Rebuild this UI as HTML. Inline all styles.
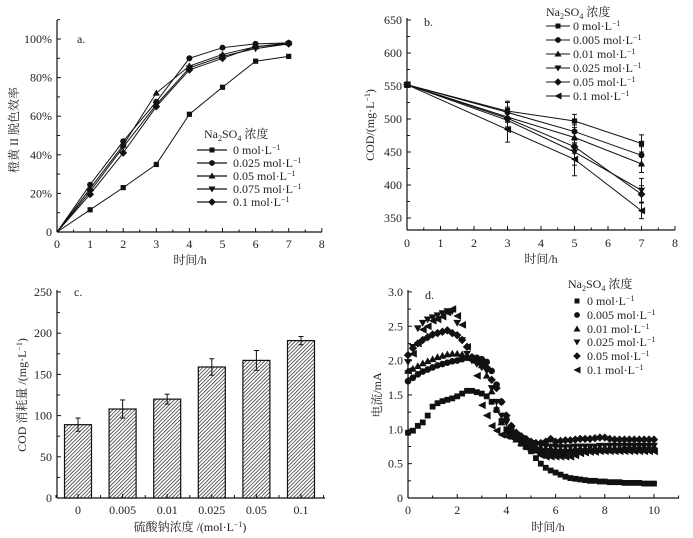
<!DOCTYPE html>
<html><head><meta charset="utf-8">
<style>
html,body{margin:0;padding:0;background:#fff;}
svg{display:block;font-family:"Liberation Serif","Noto Serif CJK SC","Noto Sans CJK SC",serif;}
text{fill:#222;}
</style></head>
<body>
<svg id="c" width="693" height="538" viewBox="0 0 693 538" xmlns="http://www.w3.org/2000/svg">
<defs>
<pattern id="hatch" patternUnits="userSpaceOnUse" width="2.6" height="2.6" patternTransform="rotate(45)">
<rect width="2.6" height="2.6" fill="#fff"/><line x1="0" y1="0" x2="0" y2="2.6" stroke="#333" stroke-width="1.5"/>
</pattern>
</defs>
</svg>
<script>
// ---------- Panel a data ----------
const aTimes=[0,1,2,3,4,5,6,7];
const aLabels=['0 mol·L','0.025 mol·L','0.05 mol·L','0.075 mol·L','0.1 mol·L'];
const aS0=[0,11.5,23,35,61,75,88.5,91];
const aS025=[0,24.5,47,67.5,90,95.5,97.5,98];
const aS05=[0,22.5,45,72,86,92,96,98];
const aS075=[0,21,44,66,85,91,95,97.5];
const aS1=[0,19.5,41,65,84,90,96,97.5];
const aYTicks=[0,20,40,60,80,100];
// ---------- Panel b data ----------
const bTimes=[0,3,5,7];
const bLabels=['0 mol·L','0.005 mol·L','0.01 mol·L','0.025 mol·L','0.05 mol·L','0.1 mol·L'];
const bS0=[552,512,497,463];
const bS005=[552,510,481,445];
const bS01=[552,503,472,432];
const bS025=[552,498,450,392];
const bS05=[552,501,458,386];
const bS1=[552,484,439,361];
const bErr0=[4,15,10,13];
const bErr1=[4,19,25,12];
const bErr025=[4,12,20,18];
const bYTicks=[350,400,450,500,550,600,650];
// ---------- Panel c data ----------
const cCats=['0','0.005','0.01','0.025','0.05','0.1'];
const cVals=[89,108,120,159,167,191];
const cErrs=[8,11,6,10,12,5];
const cYTicks=[0,50,100,150,200,250];
// ---------- Panel d data ----------
const dTimes=[0,0.2,0.4,0.6,0.8,1,1.2,1.4,1.6,1.8,2,2.2,2.4,2.6,2.8,3,3.2,3.4,3.6,3.8,4,4.2,4.4,4.6,4.8,5,5.2,5.4,5.6,5.8,6,6.2,6.4,6.6,6.8,7,7.2,7.4,7.6,7.8,8,8.2,8.4,8.6,8.8,9,9.2,9.4,9.6,9.8,10];
const dLabels=['0 mol·L','0.005 mol·L','0.01 mol·L','0.025 mol·L','0.05 mol·L','0.1 mol·L'];
const dS0=[0.95,0.98,1.05,1.1,1.2,1.33,1.38,1.41,1.43,1.45,1.48,1.52,1.56,1.56,1.54,1.52,1.48,1.40,1.28,1.12,1.0,0.92,0.85,0.79,0.74,0.68,0.58,0.5,0.44,0.4,0.37,0.34,0.31,0.29,0.28,0.27,0.26,0.25,0.25,0.24,0.24,0.23,0.23,0.23,0.22,0.22,0.22,0.22,0.21,0.21,0.21];
const dS005=[1.7,1.75,1.8,1.84,1.87,1.9,1.93,1.95,1.97,1.99,2.0,2.02,2.04,2.05,2.04,2.02,1.98,1.85,1.65,1.4,1.15,1.0,0.9,0.83,0.78,0.74,0.72,0.7,0.69,0.69,0.68,0.68,0.68,0.68,0.69,0.69,0.69,0.7,0.7,0.7,0.7,0.7,0.7,0.7,0.71,0.71,0.71,0.71,0.71,0.71,0.71];
const dS01=[1.85,1.88,1.92,1.96,1.99,2.02,2.05,2.07,2.09,2.1,2.1,2.09,2.07,2.04,2.0,1.93,1.78,1.55,1.3,1.1,0.97,0.9,0.85,0.8,0.76,0.72,0.69,0.67,0.66,0.66,0.66,0.66,0.66,0.67,0.67,0.68,0.68,0.69,0.69,0.7,0.7,0.7,0.71,0.71,0.72,0.72,0.72,0.73,0.73,0.73,0.73];
const dS025=[1.98,2.2,2.47,2.55,2.6,2.63,2.66,2.69,2.72,2.72,2.55,2.3,2.1,2.0,1.95,1.9,1.85,1.6,1.4,1.2,1.1,1.0,0.92,0.87,0.83,0.8,0.78,0.76,0.75,0.75,0.74,0.74,0.74,0.74,0.75,0.75,0.75,0.75,0.75,0.76,0.76,0.76,0.76,0.76,0.76,0.76,0.76,0.76,0.76,0.76,0.76];
const dS05=[2.08,2.18,2.25,2.3,2.34,2.38,2.4,2.42,2.44,2.4,2.37,2.3,2.2,2.05,1.98,1.96,1.9,1.72,1.6,1.4,1.2,1.05,0.95,0.9,0.86,0.82,0.8,0.8,0.82,0.86,0.82,0.83,0.84,0.84,0.85,0.86,0.86,0.86,0.87,0.88,0.88,0.86,0.85,0.85,0.85,0.85,0.85,0.85,0.85,0.85,0.85];
const dS1=[1.85,2.1,2.25,2.45,2.5,2.58,2.6,2.64,2.7,2.75,2.65,2.52,2.2,2.0,1.78,1.35,1.2,1.05,0.98,0.92,0.9,0.88,0.86,0.84,0.8,0.75,0.68,0.62,0.6,0.6,0.6,0.6,0.6,0.6,0.62,0.65,0.66,0.67,0.67,0.68,0.68,0.68,0.68,0.68,0.68,0.68,0.68,0.68,0.68,0.68,0.68];
const dYTicks=[0,0.5,1.0,1.5,2.0,2.5,3.0];
const dXTicks=[0,2,4,6,8,10];

const svg=document.getElementById('c');
const NS='http://www.w3.org/2000/svg';
const FS=12;
function mk(tag,attrs,parent){const e=document.createElementNS(NS,tag);for(const k in attrs)e.setAttribute(k,attrs[k]);(parent||svg).appendChild(e);return e;}
function txt(x,y,s,anchor,size,parent){const t=mk('text',{x:x,y:y,'text-anchor':anchor||'middle','font-size':size||FS},parent);t.textContent=s;return t;}
function supLabel(x,y,base,parent){const t=mk('text',{x:x,y:y,'text-anchor':'start','font-size':FS},parent);t.appendChild(document.createTextNode(base));const s=mk('tspan',{dy:-4,'font-size':8},t);s.textContent='−1';return t;}
function marker(type,x,y,r,parent,name){
  let e;
  if(type==='sq')e=mk('rect',{x:x-r,y:y-r,width:2*r,height:2*r,fill:'#111'},parent);
  else if(type==='ci')e=mk('circle',{cx:x,cy:y,r:r+0.4,fill:'#111'},parent);
  else if(type==='tu')e=mk('polygon',{points:`${x},${y-r-1} ${x-r-1},${y+r} ${x+r+1},${y+r}`,fill:'#111'},parent);
  else if(type==='td')e=mk('polygon',{points:`${x},${y+r+1} ${x-r-1},${y-r} ${x+r+1},${y-r}`,fill:'#111'},parent);
  else if(type==='di')e=mk('polygon',{points:`${x},${y-r-1.3} ${x+r+1.3},${y} ${x},${y+r+1.3} ${x-r-1.3},${y}`,fill:'#111'},parent);
  else e=mk('polygon',{points:`${x-r-1},${y} ${x+r+1},${y-r-1} ${x+r+1},${y+r+1}`,fill:'#111'},parent);
  
  
  return e;
}
function line(x1,y1,x2,y2,parent,w){return mk('line',{x1:x1,y1:y1,x2:x2,y2:y2,stroke:'#111','stroke-width':w||1},parent);}
function group(name){const g=mk('g',{});return g;}
function naTitle(x,y,parent){
  const t=mk('text',{x:x,y:y,'font-size':FS,'text-anchor':'start'},parent);t.appendChild(document.createTextNode('Na'));
  let s1=mk('tspan',{dy:3,'font-size':8},t);s1.textContent='2';let s2=mk('tspan',{dy:-3},t);s2.textContent='SO';let s3=mk('tspan',{dy:3,'font-size':8},t);s3.textContent='4';let s4=mk('tspan',{dy:-3},t);s4.textContent=' 浓度';
}

// ======== Panel a ========
(function(){
  const g=group('panel-a');
  const X=v=>57+v*33.1, Y=v=>232-v*1.93;
  line(57,20,57,232,g,1.2);line(57,232,322,232,g,1.2);
  for(let v=0;v<=110;v+=10){line(57,Y(v),v%20===0?61:60,Y(v),g);}
  aYTicks.forEach(v=>txt(52,Y(v)+4,v===0?'0':v+'%','end',FS,g));
  for(let v=0;v<=8;v+=0.5){line(X(v),232,X(v),v%1===0?228:229.5,g);}
  for(let v=0;v<=8;v++)txt(X(v),248,String(v),'middle',FS,g);
  txt(190,264,'时间/h','middle',FS,g);
  const yt=txt(0,0,'橙黄 II 脱色效率','middle',FS,g);yt.setAttribute('transform','translate(18,130) rotate(-90)');
  txt(77,43,'a.','start',FS,g);
  const series=[aS0,aS025,aS05,aS075,aS1], types=['sq','ci','tu','td','di'];
  series.forEach((s,i)=>{
    const sg=group('series-a-'+i);g.appendChild(sg);
    mk('polyline',{points:s.map((v,j)=>X(aTimes[j])+','+Y(v)).join(' '),fill:'none',stroke:'#111','stroke-width':1},sg);
    s.forEach((v,j)=>{if(j>0)marker(types[i],X(aTimes[j]),Y(v),2.6,sg,'point-a');});
  });
  const lg=group('legend-a');g.appendChild(lg);
  naTitle(204,138,lg);
  const ly=[150,163,176,189,202];
  aLabels.forEach((l,i)=>{line(197,ly[i],227,ly[i],lg,1.3);marker(types[i],212,ly[i],2.5,lg,'legend-marker');supLabel(233,ly[i]+4,l,lg);});
})();

// ======== Panel b ========
(function(){
  const g=group('panel-b');
  const X=v=>407+v*33.5, Y=v=>218-(v-350)*0.66;
  line(407,18,407,230,g,1.2);line(407,230,675,230,g,1.2);
  for(let v=350;v<=650;v+=25){line(407,Y(v),v%50===0?411:410,Y(v),g);}
  bYTicks.forEach(v=>txt(402,Y(v)+4,String(v),'end',FS,g));
  for(let v=0;v<=8;v+=0.5){line(X(v),230,X(v),v%1===0?226:227.5,g);}
  for(let v=0;v<=8;v++)txt(X(v),247,String(v),'middle',FS,g);
  txt(541,263,'时间/h','middle',FS,g);
  const yt=mk('text',{'font-size':FS,'text-anchor':'middle',transform:'translate(374,125) rotate(-90)'},g);yt.appendChild(document.createTextNode('COD/(mg·L'));let ss=mk('tspan',{dy:-4,'font-size':8},yt);ss.textContent='−1';let ss2=mk('tspan',{dy:4},yt);ss2.textContent=')';
  txt(424,26,'b.','start',FS,g);
  const series=[bS0,bS005,bS01,bS025,bS05,bS1], types=['sq','ci','tu','td','di','lt'];
  const errs=[bErr0,bErr0,bErr0,bErr025,bErr0,bErr1];
  series.forEach((s,i)=>{
    const sg=group('series-b-'+i);g.appendChild(sg);
    mk('polyline',{points:s.map((v,j)=>X(bTimes[j])+','+Y(v)).join(' '),fill:'none',stroke:'#111','stroke-width':1},sg);
    s.forEach((v,j)=>{const e=errs[i][j];line(X(bTimes[j]),Y(v-e),X(bTimes[j]),Y(v+e),sg);line(X(bTimes[j])-2.5,Y(v-e),X(bTimes[j])+2.5,Y(v-e),sg);line(X(bTimes[j])-2.5,Y(v+e),X(bTimes[j])+2.5,Y(v+e),sg);marker(types[i],X(bTimes[j]),Y(v),2.6,sg,'point-b');});
  });
  const lg=group('legend-b');g.appendChild(lg);
  naTitle(546,16,lg);
  const ly=[26,40,54,68,82,96];
  bLabels.forEach((l,i)=>{line(546,ly[i],570,ly[i],lg,1);marker(types[i],558,ly[i],2.5,lg,'legend-marker');supLabel(573,ly[i]+4,l,lg);});
})();

// ======== Panel c ========
(function(){
  const g=group('panel-c');
  const Y=v=>498-v*0.824, X=i=>78+i*44.6;
  line(57,290,57,498,g,1.2);line(57,498,325,498,g,1.2);
  for(let v=0;v<=250;v+=25){line(57,Y(v),v%50===0?61:60,Y(v),g);}
  cYTicks.forEach(v=>txt(52,Y(v)+4,String(v),'end',FS,g));
  for(let i=0;i<=6;i++){line(56+i*44.6,498,56+i*44.6,495,g);}
  cCats.forEach((c,i)=>{
    const bg=group('bar-'+c);g.appendChild(bg);
    mk('rect',{x:X(i)-13.5,y:Y(cVals[i]),width:27,height:498-Y(cVals[i]),fill:'url(#hatch)',stroke:'#111','stroke-width':1.2},bg);
    const e=cErrs[i];line(X(i),Y(cVals[i]+e),X(i),Y(cVals[i]-e),bg);line(X(i)-2.5,Y(cVals[i]+e),X(i)+2.5,Y(cVals[i]+e),bg);line(X(i)-2.5,Y(cVals[i]-e),X(i)+2.5,Y(cVals[i]-e),bg);
    line(X(i),498,X(i),494,bg);
    txt(X(i),514,c,'middle',FS,g);
  });
  const xt=mk('text',{x:190,y:531,'font-size':FS,'text-anchor':'middle'},g);xt.appendChild(document.createTextNode('硫酸钠浓度 /(mol·L'));let a=mk('tspan',{dy:-4,'font-size':8},xt);a.textContent='−1';let b=mk('tspan',{dy:4},xt);b.textContent=')';
  const yt=mk('text',{'font-size':FS,'text-anchor':'middle',transform:'translate(26,395) rotate(-90)'},g);yt.appendChild(document.createTextNode('COD 消耗量 /(mg·L'));let c1=mk('tspan',{dy:-4,'font-size':8},yt);c1.textContent='−1';let c2=mk('tspan',{dy:4},yt);c2.textContent=')';
  txt(74,296,'c.','start',FS,g);
})();

// ======== Panel d ========
(function(){
  const g=group('panel-d');
  const X=v=>408+v*24.6, Y=v=>498-v*68.7;
  line(408,290,408,498,g,1.2);line(408,498,679,498,g,1.2);
  for(let v=0;v<=3.0001;v+=0.25){line(408,Y(v),Math.round(v*100)%50===0?412:411,Y(v),g);}
  dYTicks.forEach(v=>txt(403,Y(v)+4,v===0?'0':v.toFixed(1),'end',FS,g));
  for(let v=0;v<=11;v++){line(X(v),498,X(v),v%2===0?494:495.5,g);}
  dXTicks.forEach(v=>txt(X(v),514,String(v),'middle',FS,g));
  txt(548,531,'时间/h','middle',FS,g);
  const yt=txt(0,0,'电流/mA','middle',FS,g);yt.setAttribute('transform','translate(381,395) rotate(-90)');
  txt(425,299,'d.','start',FS,g);
  const series=[dS0,dS005,dS01,dS025,dS05,dS1], types=['sq','ci','tu','td','di','lt'];
  series.forEach((s,i)=>{
    const sg=group('series-d-'+i);g.appendChild(sg);
    s.forEach((v,j)=>marker(types[i],X(dTimes[j]),Y(v),2.9,sg,'point-d'));
  });
  const lg=group('legend-d');g.appendChild(lg);
  naTitle(568,288,lg);
  const ly=[301,315,329,342,356,370];
  dLabels.forEach((l,i)=>{marker(types[i],577,ly[i],2.5,lg,'legend-marker');supLabel(587,ly[i]+4,l,lg);});
})();
</script>
</body></html>
